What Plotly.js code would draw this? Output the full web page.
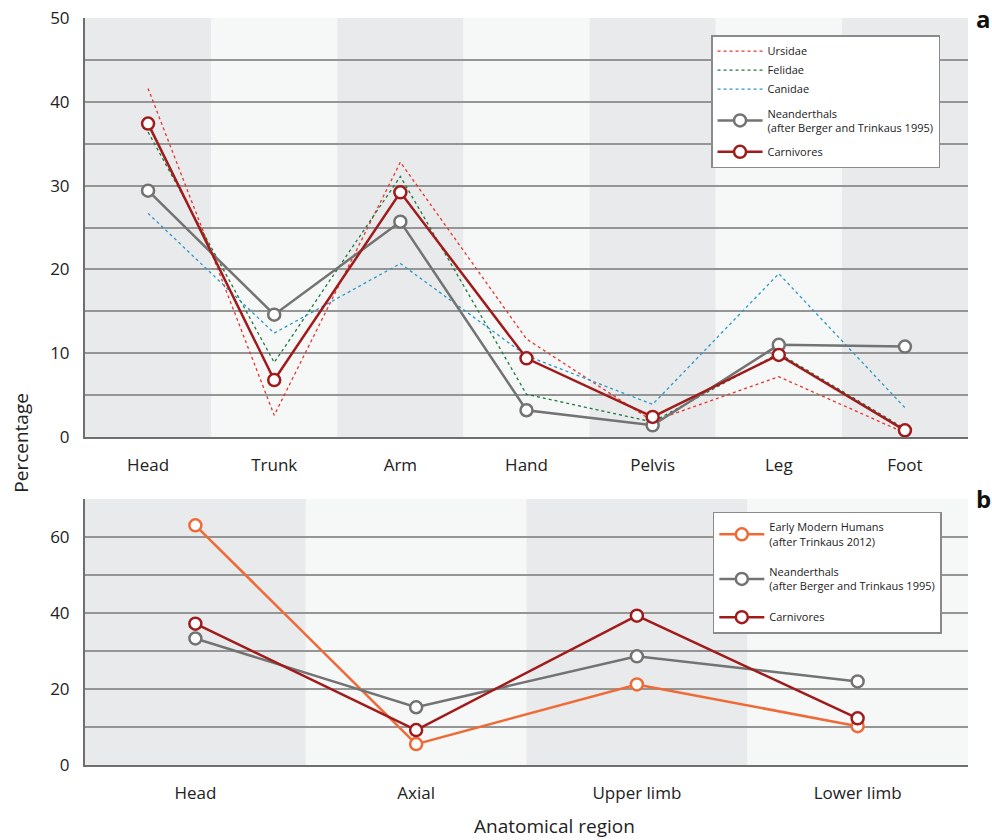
<!DOCTYPE html>
<html><head><meta charset="utf-8">
<script src="https://cdn.plot.ly/plotly-3.0.1.min.js"></script>
<style>body{margin:0;background:#fff}#c{width:992px;height:840px}</style>
</head><body><div id="c"></div>
<script>
const regionsA = ["Head","Trunk","Arm","Hand","Pelvis","Leg","Foot"];
const ursidae = [41.6, 2.6, 32.8, 11.7, 1.9, 7.2, 0.5];
const felidae = [36.4, 8.9, 31.1, 5.1, 1.8, 10.0, 1.0];
const canidae = [26.7, 12.4, 20.7, 9.7, 3.9, 19.5, 3.5];
const neanderA = [29.4, 14.6, 25.7, 3.2, 1.4, 11.0, 10.8];
const carnA = [37.4, 6.8, 29.2, 9.4, 2.4, 9.8, 0.8];

const regionsB = ["Head","Axial","Upper limb","Lower limb"];
const emh = [63.1, 5.5, 21.2, 10.2];
const neanderB = [33.3, 15.2, 28.6, 22.0];
const carnB = [37.2, 9.2, 39.3, 12.3];

const FONT = "Open Sans, Liberation Sans, sans-serif";
const cRed = "#a01b1b", cGray = "#737373", cOrange = "#ef6a36";

function solid(x, y, name, color, xa, ya, legend, group){
  return {x, y, name, type:"scatter", mode:"lines+markers", xaxis:xa, yaxis:ya,
    legend, legendgroup:group,
    line:{color, width:2.5},
    marker:{symbol:"circle", size:12, color:"#ffffff", line:{color, width:2.5}}};
}
function dashed(x, y, name, color){
  return {x, y, name, type:"scatter", mode:"lines", xaxis:"x", yaxis:"y",
    legend:"legend", legendgroup:"g1",
    line:{color, width:1.3, dash:"3px,3px"}};
}

const traces = [
  dashed(regionsA, ursidae, "Ursidae", "#e8352c"),
  dashed(regionsA, felidae, "Felidae", "#1d7a3e"),
  dashed(regionsA, canidae, "Canidae", "#2b98c8"),
  solid(regionsA, neanderA, "Neanderthals<br>(after Berger and Trinkaus 1995)", cGray, "x", "y", "legend", "g2"),
  solid(regionsA, carnA, "Carnivores", cRed, "x", "y", "legend", "g3"),
  solid(regionsB, emh, "Early Modern Humans<br>(after Trinkaus 2012)", cOrange, "x2", "y2", "legend2", "h1"),
  solid(regionsB, neanderB, "Neanderthals<br>(after Berger and Trinkaus 1995)", cGray, "x2", "y2", "legend2", "h2"),
  solid(regionsB, carnB, "Carnivores", cRed, "x2", "y2", "legend2", "h3"),
];

const shapes = [];
regionsA.forEach((r,i)=>shapes.push({type:"rect", xref:"x", yref:"y domain", x0:i-0.5, x1:i+0.5, y0:0, y1:1,
  fillcolor: i%2===0 ? "#e9eaeb" : "#f6f7f7", line:{width:0}, layer:"below"}));
regionsB.forEach((r,i)=>shapes.push({type:"rect", xref:"x2", yref:"y2 domain", x0:i-0.5, x1:i+0.5, y0:0, y1:1,
  fillcolor: i%2===0 ? "#e9eaeb" : "#f6f7f7", line:{width:0}, layer:"below"}));

const tickFont = {family:FONT, size:17, color:"#222"};
const gridC = "#959595";
const axisLine = {showline:true, linecolor:"#6e6e6e", linewidth:2};

const layout = {
  width:992, height:840,
  margin:{l:85, r:24, t:18, b:75},
  paper_bgcolor:"#ffffff", plot_bgcolor:"#f6f7f7",
  font:{family:FONT, color:"#222"},
  showlegend:true,
  xaxis:Object.assign({type:"category", range:[-0.5,6.5], domain:[0,1], anchor:"y",
    showgrid:false, ticks:"", tickfont:tickFont, fixedrange:true, ticklabelstandoff:12}, axisLine),
  yaxis:Object.assign({range:[0,50], domain:[0.439,1], anchor:"x", tickvals:[0,10,20,30,40,50],
    showgrid:true, gridcolor:gridC, gridwidth:2, zeroline:false, ticks:"", tickfont:tickFont, ticklabelstandoff:10,
    minor:{dtick:5, showgrid:true, gridcolor:gridC, gridwidth:2, ticks:""}}, axisLine),
  xaxis2:Object.assign({type:"category", range:[-0.5,3.5], domain:[0,1], anchor:"y2",
    showgrid:false, ticks:"", tickfont:tickFont, ticklabelstandoff:12}, axisLine),
  yaxis2:Object.assign({range:[0,70], domain:[0,0.356], anchor:"x2", tickvals:[0,20,40,60],
    showgrid:true, gridcolor:gridC, gridwidth:2, zeroline:false, ticks:"", tickfont:tickFont, ticklabelstandoff:10,
    minor:{dtick:10, showgrid:true, gridcolor:gridC, gridwidth:2, ticks:""}}, axisLine),
  legend:{x:0.709, y:0.977, xanchor:"left", yanchor:"top", bgcolor:"#ffffff",
    bordercolor:"#8a8a8a", borderwidth:1.5, font:{family:FONT, size:11, color:"#222"},
    traceorder:"grouped", tracegroupgap:6, itemwidth:45},
  legend2:{x:0.711, y:0.3387, xanchor:"left", yanchor:"top", bgcolor:"#ffffff",
    bordercolor:"#8a8a8a", borderwidth:1.5, font:{family:FONT, size:11, color:"#222"},
    traceorder:"grouped", tracegroupgap:13, itemwidth:45},
  shapes,
  annotations:[
    {text:"Percentage", xref:"paper", yref:"paper", x:-0.072, y:0.432, textangle:-90,
      showarrow:false, font:{family:FONT, size:19, color:"#222"}, xanchor:"center", yanchor:"middle"},
    {text:"Anatomical region", xref:"paper", yref:"paper", x:0.532, y:-0.081, showarrow:false,
      font:{family:FONT, size:19, color:"#222"}, xanchor:"center", yanchor:"middle"},
    {text:"<b>a</b>", xref:"paper", yref:"paper", x:1.018, y:1.0, showarrow:false,
      font:{family:FONT, size:24, color:"#111"}, xanchor:"center", yanchor:"middle"},
    {text:"<b>b</b>", xref:"paper", yref:"paper", x:1.018, y:0.357, showarrow:false,
      font:{family:FONT, size:24, color:"#111"}, xanchor:"center", yanchor:"middle"}
  ]
};

Plotly.newPlot("c", traces, layout, {displayModeBar:false, staticPlot:true});
</script></body></html>
